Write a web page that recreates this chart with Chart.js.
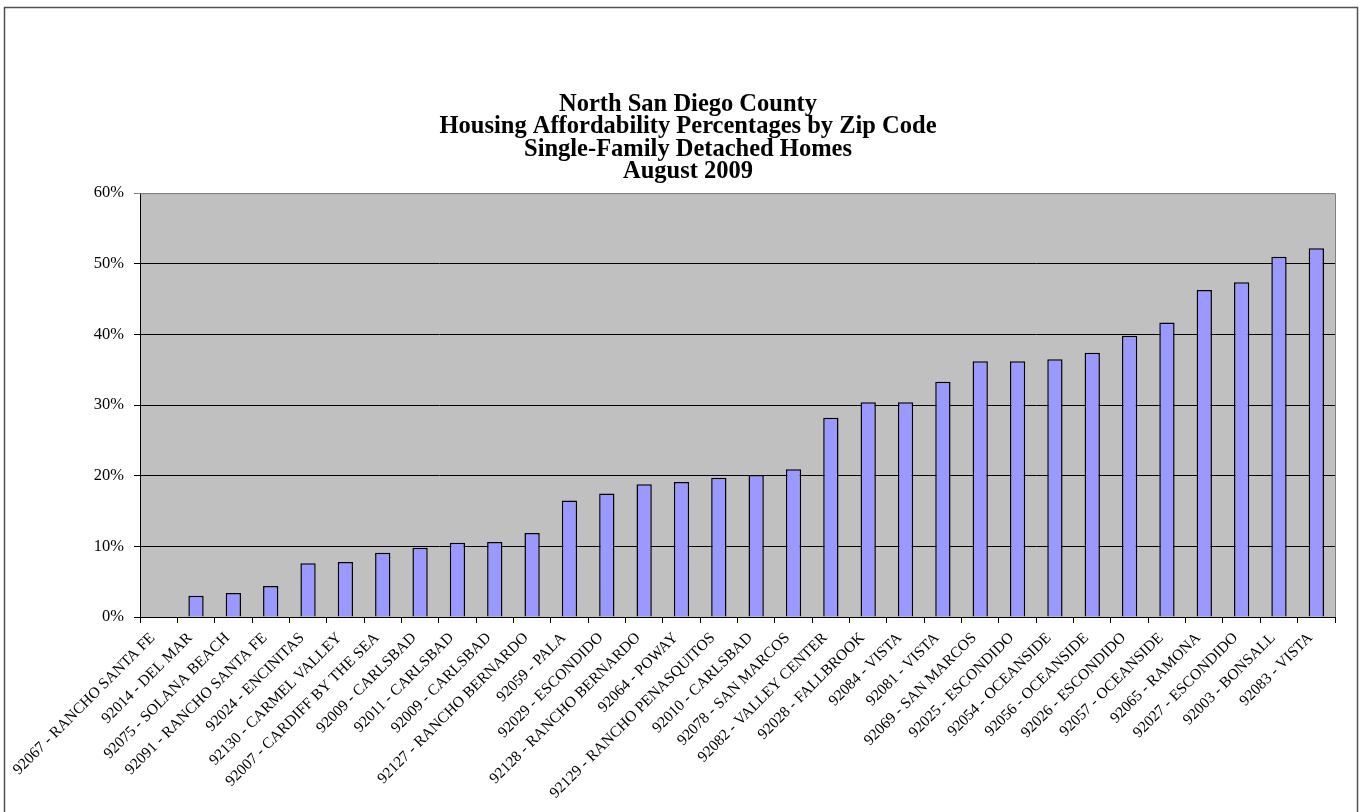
<!DOCTYPE html>
<html>
<head>
<meta charset="utf-8">
<title>North San Diego County Housing Affordability</title>
<script src="https://cdn.jsdelivr.net/npm/chart.js@4/dist/chart.umd.min.js"></script>
<style>
  html, body { margin: 0; padding: 0; background: #fff; }
  #wrap { position: absolute; left: 0; top: 0; width: 1360px; height: 812px; }
</style>
</head>
<body>
<div id="wrap"><canvas id="chart" width="1360" height="812"></canvas></div>
<script>
// Chart data (affordability, percent of households)
const titleLines = [
  "North San Diego County",
  "Housing Affordability Percentages by Zip Code",
  "Single-Family Detached Homes",
  "August 2009"
];

const zipAreas = [
  "92067 - RANCHO SANTA FE", "92014 - DEL MAR", "92075 - SOLANA BEACH",
  "92091 - RANCHO SANTA FE", "92024 - ENCINITAS", "92130 - CARMEL VALLEY",
  "92007 - CARDIFF BY THE SEA", "92009 - CARLSBAD", "92011 - CARLSBAD",
  "92009 - CARLSBAD", "92127 - RANCHO BERNARDO", "92059 - PALA",
  "92029 - ESCONDIDO", "92128 - RANCHO BERNARDO", "92064 - POWAY",
  "92129 - RANCHO PENASQUITOS", "92010 - CARLSBAD", "92078 - SAN MARCOS",
  "92082 - VALLEY CENTER", "92028 - FALLBROOK", "92084 - VISTA",
  "92081 - VISTA", "92069 - SAN MARCOS", "92025 - ESCONDIDO",
  "92054 - OCEANSIDE", "92056 - OCEANSIDE", "92026 - ESCONDIDO",
  "92057 - OCEANSIDE", "92065 - RAMONA", "92027 - ESCONDIDO",
  "92003 - BONSALL", "92083 - VISTA"
];

const affordability = [
  0, 3.0, 3.4, 4.4, 7.6, 7.8, 9.1, 9.8, 10.5, 10.6, 11.9, 16.5,
  17.5, 18.8, 19.1, 19.7, 20.1, 20.9, 28.2, 30.4, 30.4, 33.3,
  36.2, 36.2, 36.5, 37.4, 39.8, 41.7, 46.3, 47.4, 51.0, 52.2
];

const yMin = 0, yMax = 60, yStep = 10;

// grey plot area + outer frame, like the old spreadsheet chart
const plotBackground = {
  id: 'plotBackground',
  beforeDraw(chart) {
    const { ctx, chartArea: a } = chart;
    ctx.save();
    ctx.fillStyle = '#c0c0c0';
    ctx.fillRect(a.left, a.top, a.right - a.left, a.bottom - a.top);
    ctx.restore();
  },
  afterDraw(chart) {
    const { ctx, chartArea: a } = chart;
    ctx.save();
    ctx.strokeStyle = '#808080';
    ctx.lineWidth = 1;
    ctx.beginPath();
    ctx.moveTo(a.left, a.top + 0.5);
    ctx.lineTo(a.right + 0.5, a.top + 0.5);
    ctx.lineTo(a.right + 0.5, a.bottom);
    ctx.stroke();
    // outer frame
    ctx.strokeStyle = '#505050';
    ctx.lineWidth = 1.5;
    ctx.strokeRect(4.5, 7.5, 1353, 820);
    ctx.restore();
  }
};

new Chart(document.getElementById('chart'), {
  type: 'bar',
  data: {
    labels: zipAreas,
    datasets: [{
      label: 'Affordability',
      data: affordability,
      backgroundColor: '#9999ff',
      borderColor: '#000000',
      borderWidth: 1.5,
      categoryPercentage: 1.0,
      barPercentage: 0.41
    }]
  },
  options: {
    responsive: false,
    animation: false,
    // left padding keeps the title centred where the original had it
    layout: { padding: { left: 41, right: 25, top: 0, bottom: 0 } },
    plugins: {
      legend: { display: false },
      tooltip: { enabled: false },
      title: {
        display: true,
        text: titleLines,
        color: '#000',
        font: { family: 'Liberation Serif', size: 24.5, weight: 'bold', lineHeight: 0.92 },
        padding: { top: 93, bottom: 10 }
      }
    },
    scales: {
      x: {
        grid: {
          drawOnChartArea: false,
          drawTicks: true,
          tickLength: 6,
          color: '#000'
        },
        border: { color: '#000', width: 1 },
        ticks: {
          autoSkip: false,
          maxRotation: 45,
          minRotation: 45,
          color: '#000',
          padding: 6,
          labelOffset: -6,
          font: { family: 'Liberation Serif', size: 15.5 }
        },
        afterFit(scale) { scale.height = 195; }
      },
      y: {
        min: yMin,
        max: yMax,
        grid: {
          color: (c) => (c.tick && c.tick.value === yMax ? '#808080' : '#000'),
          tickLength: 6
        },
        border: { color: '#000', width: 1 },
        ticks: {
          stepSize: yStep,
          color: '#000',
          padding: 10,
          font: { family: 'Liberation Serif', size: 16.5 },
          callback: (v) => v + '%'
        },
        afterFit(scale) { scale.width = 99; }
      }
    }
  },
  plugins: [plotBackground]
});
</script>
</body>
</html>
